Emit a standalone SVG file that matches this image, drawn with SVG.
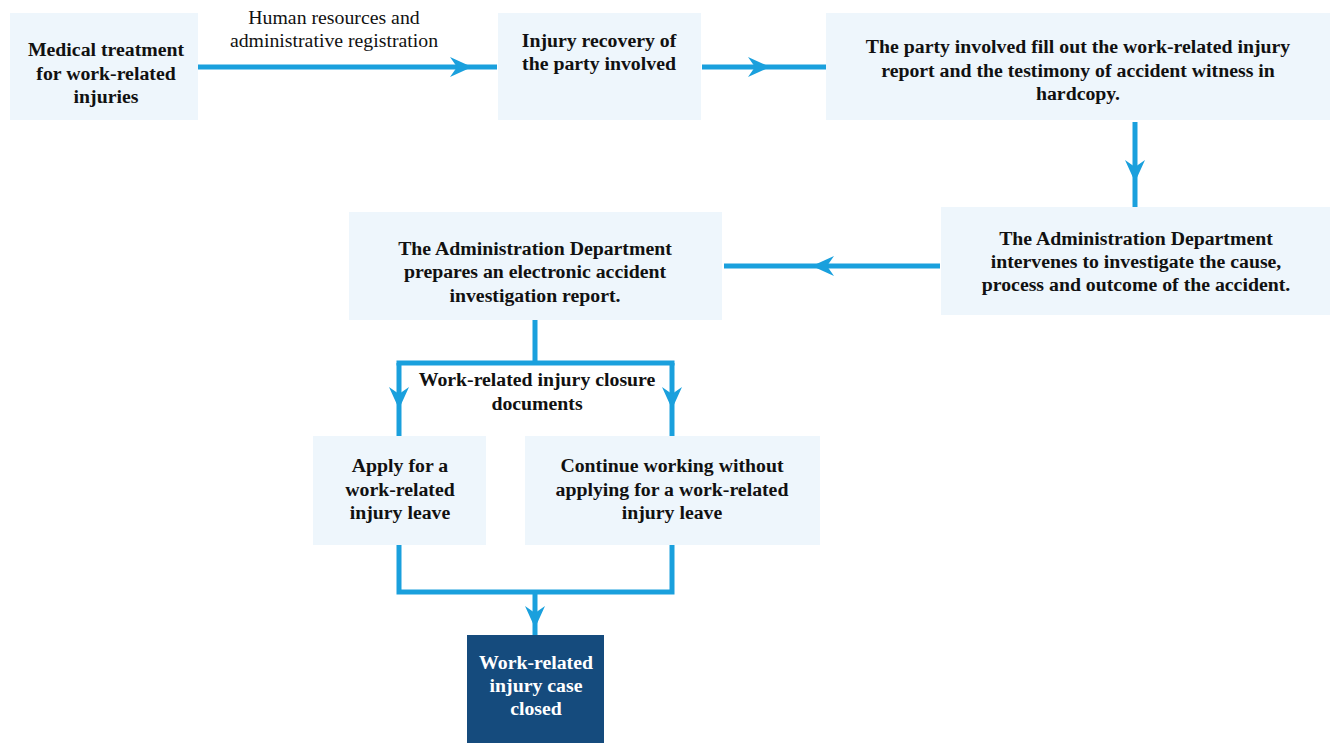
<svg xmlns="http://www.w3.org/2000/svg" width="1331" height="743" viewBox="0 0 1331 743">
  <style>
    .box { fill: #eef6fc; }
    .dark { fill: #154b7d; }
    .t { font-family: "Liberation Serif", "Times New Roman", serif; font-size: 19.8px; font-weight: bold; fill: #111; text-anchor: middle; }
    .tw { font-family: "Liberation Serif", "Times New Roman", serif; font-size: 19.8px; font-weight: bold; fill: #ffffff; text-anchor: middle; }
    .lbl { font-family: "Liberation Serif", "Times New Roman", serif; font-size: 19.8px; fill: #111; text-anchor: middle; }
    .con { fill: none; stroke: #1aa0dd; stroke-width: 5; marker-mid: url(#arrow); }
  </style>
  <defs>
    <marker id="arrow" markerUnits="userSpaceOnUse" viewBox="-24 -12 26 24" refX="0" refY="0" markerWidth="26" markerHeight="24" orient="auto">
      <path d="M0,0 L-22,-10 L-15,0 L-22,10 Z" fill="#1aa0dd"/>
    </marker>
  </defs>

  <rect width="1331" height="743" fill="#ffffff"/>

  <!-- connectors -->
  <g id="connectors">
    <path class="con" d="M198,67 L472,67 L497,67"/>
    <path class="con" d="M702,67 L770,67 L826,67"/>
    <path class="con" d="M1135,122 L1135,182 L1135,207"/>
    <path class="con" d="M940,266 L812,266 L724,266"/>
    <path d="M535,320 V363 M399,363 H672" fill="none" stroke="#1aa0dd" stroke-width="5" stroke-linecap="square"/>
    <path class="con" d="M399,363 L399,409 L399,436"/>
    <path class="con" d="M672,363 L672,409 L672,436"/>
    <path d="M399,545 V592 H672 V545" fill="none" stroke="#1aa0dd" stroke-width="5" stroke-linejoin="miter"/>
    <path class="con" d="M535,592 L535,628 L535,635"/>
    <text class="t" x="537" y="386">Work-related injury closure</text>
    <text class="t" x="537" y="410">documents</text>
    <text class="lbl" x="334" y="24">Human resources and</text>
    <text class="lbl" x="334" y="47">administrative registration</text>
  </g>

  <g id="medical-treatment">
    <rect class="box" x="10" y="13" width="188" height="107"/>
    <text class="t" x="106" y="56">Medical treatment</text>
    <text class="t" x="106" y="80">for work-related</text>
    <text class="t" x="106" y="103">injuries</text>
  </g>

  <g id="injury-recovery">
    <rect class="box" x="498" y="13" width="203" height="107"/>
    <text class="t" x="599" y="47">Injury recovery of</text>
    <text class="t" x="599" y="70">the party involved</text>
  </g>

  <g id="injury-report">
    <rect class="box" x="826" y="13" width="504" height="107"/>
    <text class="t" x="1078" y="53">The party involved fill out the work-related injury</text>
    <text class="t" x="1078" y="77">report and the testimony of accident witness in</text>
    <text class="t" x="1078" y="100">hardcopy.</text>
  </g>

  <g id="admin-investigates">
    <rect class="box" x="941" y="207" width="389" height="108"/>
    <text class="t" x="1136" y="245">The Administration Department</text>
    <text class="t" x="1136" y="268">intervenes to investigate the cause,</text>
    <text class="t" x="1136" y="291">process and outcome of the accident.</text>
  </g>

  <g id="admin-report">
    <rect class="box" x="349" y="212" width="373" height="108"/>
    <text class="t" x="535" y="255">The Administration Department</text>
    <text class="t" x="535" y="278">prepares an electronic accident</text>
    <text class="t" x="535" y="302">investigation report.</text>
  </g>

  <g id="apply-leave">
    <rect class="box" x="313" y="436" width="173" height="109"/>
    <text class="t" x="400" y="472">Apply for a</text>
    <text class="t" x="400" y="496">work-related</text>
    <text class="t" x="400" y="519">injury leave</text>
  </g>

  <g id="continue-working">
    <rect class="box" x="525" y="436" width="295" height="109"/>
    <text class="t" x="672" y="472">Continue working without</text>
    <text class="t" x="672" y="496">applying for a work-related</text>
    <text class="t" x="672" y="519">injury leave</text>
  </g>

  <g id="case-closed">
    <rect class="dark" x="467" y="635" width="137" height="108"/>
    <text class="tw" x="536" y="669">Work-related</text>
    <text class="tw" x="536" y="692">injury case</text>
    <text class="tw" x="536" y="715">closed</text>
  </g>
</svg>
